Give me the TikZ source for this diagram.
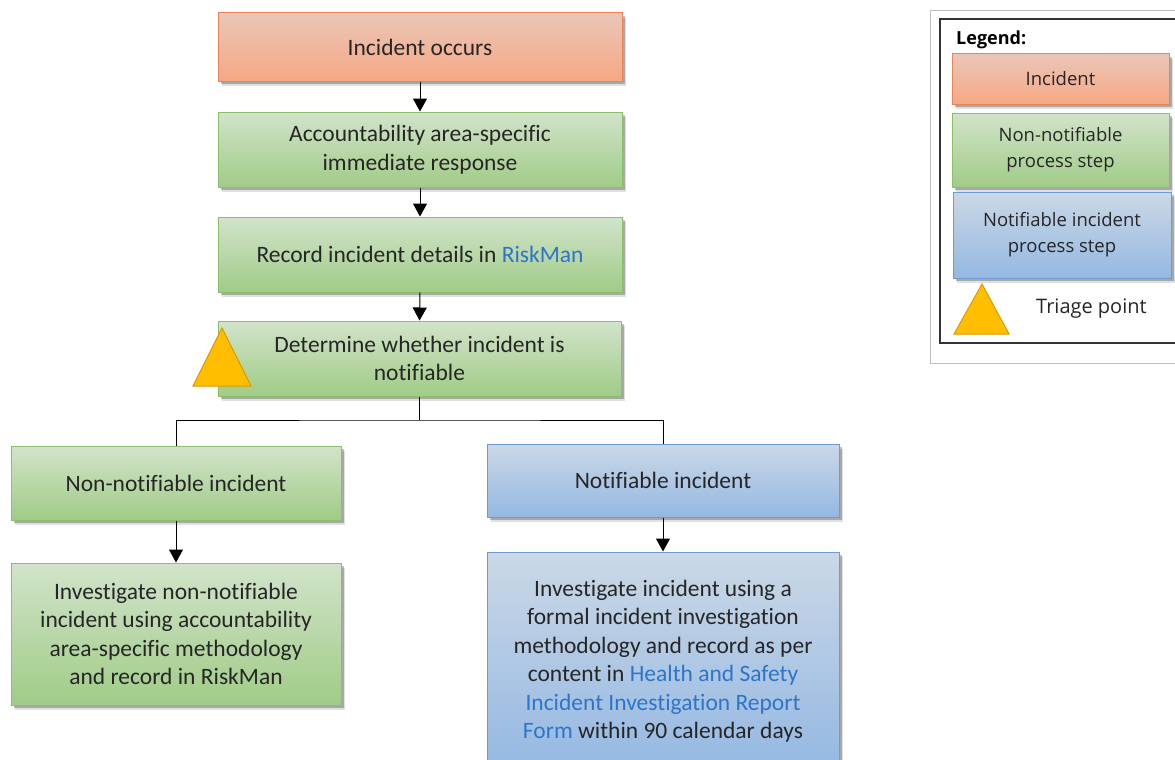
\documentclass[tikz,border=0pt]{standalone}
\usepackage{fontspec}
\setmainfont{Carlito}[RawFeature={-liga;-dlig}]
\newfontfamily\legfont{Open Sans}
\usetikzlibrary{shadows,arrows.meta,calc}
\definecolor{txt}{HTML}{262626}
\definecolor{linkc}{HTML}{2E75C9}
\definecolor{orT}{HTML}{EAC6B8}
\definecolor{orB}{HTML}{F6A884}
\definecolor{orD}{HTML}{E8845A}
\definecolor{grT}{HTML}{D2E3CA}
\definecolor{grB}{HTML}{A0CC87}
\definecolor{grD}{HTML}{8DBE6C}
\definecolor{blT}{HTML}{CBD8E6}
\definecolor{blB}{HTML}{94B8E2}
\definecolor{blD}{HTML}{6E9BD2}
\definecolor{triF}{HTML}{FFBF00}
\definecolor{triD}{HTML}{D99A00}
\tikzset{
  x=1pt, y=-1pt,
  shbox/.style={line width=1pt, text=txt, align=center, inner sep=0pt,
    drop shadow={shadow xshift=4pt, shadow yshift=-5pt, opacity=0.12, fill=black},
    drop shadow={shadow xshift=3pt, shadow yshift=-3pt, opacity=0.25, fill=black}},
  orbox/.style={shbox, draw=orD, top color=orT, bottom color=orB},
  grbox/.style={shbox, draw=grD, top color=grT, bottom color=grB},
  blbox/.style={shbox, draw=blD, top color=blT, bottom color=blB},
  main/.style={font=\fontsize{23.5}{28.5}\selectfont},
  leg/.style={font=\legfont\fontsize{18.5}{26}\selectfont},
  tri/.style={draw=triD, fill=triF, line width=1pt, line join=miter},
  arr/.style={line width=1pt, -{Triangle[width=14pt,length=13pt]}},
  conn/.style={line width=1pt}
}
\newcommand{\lnk}[1]{\textcolor{linkc}{#1}}
\begin{document}
\begin{tikzpicture}
\useasboundingbox (0,0) rectangle (1175,760);
% main flow
\node[orbox, main, minimum width=404pt, minimum height=68pt] (inc) at (420,47) {Incident occurs};
\node[grbox, main, minimum width=404pt, minimum height=75pt] (acc) at (420,149.5) {Accountability area-specific\\immediate response};
\node[grbox, main, minimum width=404pt, minimum height=75pt] (rec) at (420,254.5) {Record incident details in \lnk{RiskMan}};
\node[grbox, main, minimum width=403pt, minimum height=75pt] (det) at (419.5,358.5) {Determine whether incident is\\notifiable};
\path (193,386) coordinate (t1a) (251,386) coordinate (t1b) (222,328) coordinate (t1c);
\draw[tri] (t1a) -- (t1b) -- (t1c) -- cycle;
\node[grbox, main, minimum width=330pt, minimum height=74pt] (nn) at (176,483) {Non-notifiable incident};
\node[grbox, main, minimum width=330pt, minimum height=142pt] (inn) at (176,634) {Investigate non-notifiable\\incident using accountability\\area-specific methodology\\and record in RiskMan};
\node[blbox, main, minimum width=352pt, minimum height=73pt] (nt) at (663,480.5) {Notifiable incident};
\node[blbox, main, minimum width=352pt, minimum height=218pt] (int) at (663,661) {Investigate incident using a\\formal incident investigation\\methodology and record as per\\content in \lnk{Health and Safety}\\\lnk{Incident Investigation Report}\\\lnk{Form} within 90 calendar days};
% connectors
\draw[arr] (inc.south) -- (acc.north);
\draw[arr] (acc.south) -- (rec.north);
\draw[arr] (rec.south) -- (det.north);
\coordinate (split) at (419.5,420);
\draw[conn] (det.south) -- (split);
\draw[conn] (nn.north) |- (split) -| (nt.north);
\draw[arr] (nn.south) -- (inn.north);
\draw[arr] (nt.south) -- (int.north);
% legend
\draw[black!25, line width=0.8pt] (930,10) rectangle (1185,363);
\draw[black!80, line width=1.6pt] (940,19) rectangle (1185,343);
\node[font=\legfont\bfseries\fontsize{18}{20}\selectfont, anchor=west, inner sep=0pt] (lt) at (956,40) {Legend:};
\node[orbox, leg, minimum width=217pt, minimum height=50pt] (l1) at (1060.5,79) {Incident};
\node[grbox, leg, minimum width=217pt, minimum height=74pt] (l2) at (1060.5,150) {Non-notifiable\\process step};
\node[blbox, leg, minimum width=218pt, minimum height=86pt] (l3) at (1062,235) {Notifiable incident\\process step};
\path (954,334) coordinate (t2a) (1009,334) coordinate (t2b) (982,284) coordinate (t2c);
\draw[tri] (t2a) -- (t2b) -- (t2c) -- cycle;
\node[leg, text=txt, anchor=west, inner sep=0pt, font=\legfont\fontsize{20}{26}\selectfont] (tp) at (1036,309) {Triage point};
\end{tikzpicture}
\end{document}
